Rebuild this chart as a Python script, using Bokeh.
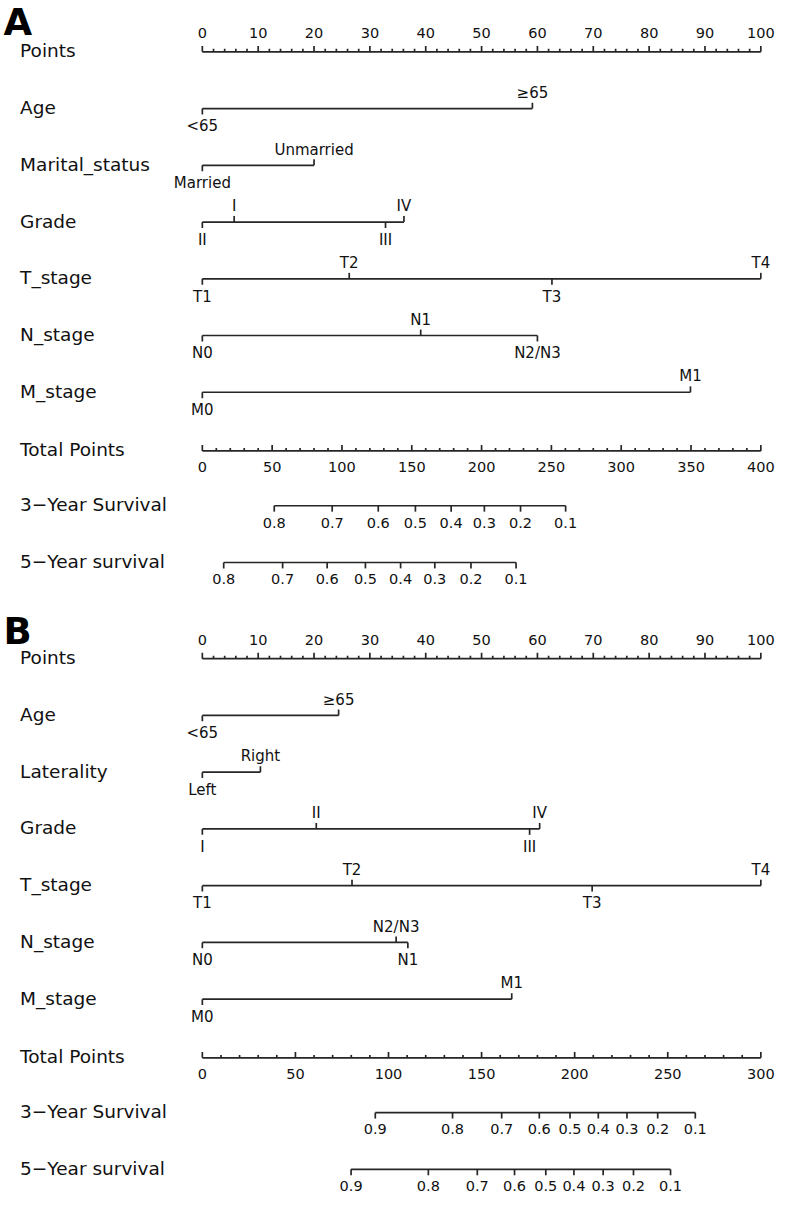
from bokeh.plotting import figure
from bokeh.models import Range1d
from bokeh.core.properties import value
from bokeh.embed import file_html
from bokeh.resources import INLINE

# ---------------- data ----------------
A_variables = ["Age", "Marital_status", "Grade", "T_stage", "N_stage", "M_stage"]
A_age_levels = ["<65", "\u226565"]
A_age_points = [0, 59.1]
A_marital_levels = ["Married", "Unmarried"]
A_marital_points = [0, 20.0]
A_grade_levels = ["II", "I", "III", "IV"]
A_grade_points = [0, 5.7, 32.8, 36.1]
A_t_levels = ["T1", "T2", "T3", "T4"]
A_t_points = [0, 26.3, 62.6, 100]
A_n_levels = ["N0", "N1", "N2/N3"]
A_n_points = [0, 39.1, 60.0]
A_m_levels = ["M0", "M1"]
A_m_points = [0, 87.4]
A_total_max = 400
A_total_major = 50
A_total_minor = 10
A_surv3_probs = ["0.8", "0.7", "0.6", "0.5", "0.4", "0.3", "0.2", "0.1"]
A_surv3_total = [51.5, 93.0, 126.0, 152.6, 178.2, 202.0, 227.9, 260.2]
A_surv5_probs = ["0.8", "0.7", "0.6", "0.5", "0.4", "0.3", "0.2", "0.1"]
A_surv5_total = [15.3, 57.5, 89.4, 116.8, 142.0, 166.5, 192.4, 224.7]

B_variables = ["Age", "Laterality", "Grade", "T_stage", "N_stage", "M_stage"]
B_age_levels = ["<65", "\u226565"]
B_age_points = [0, 24.4]
B_lat_levels = ["Left", "Right"]
B_lat_points = [0, 10.4]
B_grade_levels = ["I", "II", "III", "IV"]
B_grade_points = [0, 20.4, 58.6, 60.4]
B_t_levels = ["T1", "T2", "T3", "T4"]
B_t_points = [0, 26.8, 69.8, 100]
B_n_levels = ["N0", "N2/N3", "N1"]
B_n_points = [0, 34.7, 36.8]
B_m_levels = ["M0", "M1"]
B_m_points = [0, 55.4]
B_total_max = 300
B_total_major = 50
B_total_minor = 10
B_surv3_probs = ["0.9", "0.8", "0.7", "0.6", "0.5", "0.4", "0.3", "0.2", "0.1"]
B_surv3_total = [92.9, 134.4, 160.8, 181.0, 197.5, 212.7, 228.1, 244.6, 264.8]
B_surv5_probs = ["0.9", "0.8", "0.7", "0.6", "0.5", "0.4", "0.3", "0.2", "0.1"]
B_surv5_total = [79.9, 121.4, 147.7, 167.7, 184.5, 199.6, 215.3, 231.6, 251.5]

points_max = 100
points_major = 10
points_minor = 2

# ---------------- layout ----------------
REF_W, REF_H = 792, 1212
X0_PX, PX_PER_PT = 206, 5.70
ROW_STEP = 57.5
LABEL_X = 20
FONT = "DejaVu Sans"
LINE_COLOR = "#262626"
TEXT_COLOR = "#111111"
LW = 1.7


def to_pts(ref_x):
    return (ref_x - X0_PX) / PX_PER_PT


p = figure(width=776, height=1196,
           x_range=Range1d(to_pts(0), to_pts(REF_W)),
           y_range=Range1d(REF_H, 0),
           output_backend="svg", toolbar_location=None,
           x_axis_location=None, y_axis_location=None,
           min_border=0, background_fill_color="white",
           border_fill_color="white")
p.grid.visible = False
p.outline_line_color = None

segs = dict(x0=[], y0=[], x1=[], y1=[])
row_labels = dict(x=[], y=[], text=[])
small_labels = dict(x=[], y=[], text=[])   # level names
num_labels = dict(x=[], y=[], text=[])     # numeric tick labels


def seg(x0, y0, x1, y1):
    segs["x0"].append(x0); segs["y0"].append(y0)
    segs["x1"].append(x1); segs["y1"].append(y1)


def add(d, x, y, t):
    d["x"].append(x); d["y"].append(y); d["text"].append(t)


def row_label(y, t):
    add(row_labels, to_pts(LABEL_X), y - 1, t)


def points_row(y):
    row_label(y, "Points")
    seg(0, y, points_max, y)
    v = 0
    while v <= points_max + 1e-9:
        major = abs(v / points_major - round(v / points_major)) < 1e-9
        seg(v, y, v, y - (6 if major else 3))
        if major:
            add(num_labels, v, y - 19, str(int(round(v))))
        v += points_minor


def variable_row(y, name, levels, pts):
    row_label(y, name)
    seg(min(pts), y, max(pts), y)
    order = sorted(range(len(pts)), key=lambda i: pts[i])
    for k, i in enumerate(order):
        above = (k % 2 == 1)
        if above:
            seg(pts[i], y, pts[i], y - 6)
            add(small_labels, pts[i], y - 16, levels[i])
        else:
            seg(pts[i], y, pts[i], y + 6)
            add(small_labels, pts[i], y + 18, levels[i])


def total_row(y, tmax, major, minor):
    row_label(y, "Total Points")
    f = points_max / tmax
    seg(0, y, tmax * f, y)
    v = 0
    while v <= tmax + 1e-9:
        is_major = v % major == 0
        seg(v * f, y, v * f, y - (6 if is_major else 3))
        if is_major:
            add(num_labels, v * f, y + 16, str(v))
        v += minor


def surv_row(y, name, probs, totals, tmax):
    row_label(y, name)
    f = points_max / tmax
    xs = [t * f for t in totals]
    seg(min(xs), y, max(xs), y)
    for x, lab in zip(xs, probs):
        seg(x, y, x, y + 6)
        add(num_labels, x, y + 17, lab)


def panel(top, letter, letter_y, variables, var_data, tmax, tmaj, tmin,
          s3p, s3t, s5p, s5t):
    p.text(x=[to_pts(3)], y=[letter_y], text=[letter],
           text_font=value(FONT), text_font_style="bold",
           text_font_size="37px", text_align="left",
           text_baseline="top", text_color="black")
    points_row(top)
    for i, (name, (levels, pts)) in enumerate(zip(variables, var_data)):
        variable_row(top + (i + 1) * ROW_STEP, name, levels, pts)
    n = len(variables)
    total_row(top + (n + 1) * ROW_STEP + 2, tmax, tmaj, tmin)
    surv_row(top + (n + 2) * ROW_STEP, "3\u2212Year Survival", s3p, s3t, tmax)
    surv_row(top + (n + 3) * ROW_STEP, "5\u2212Year survival", s5p, s5t, tmax)


panel(52, "A", 1, A_variables,
      [(A_age_levels, A_age_points), (A_marital_levels, A_marital_points),
       (A_grade_levels, A_grade_points), (A_t_levels, A_t_points),
       (A_n_levels, A_n_points), (A_m_levels, A_m_points)],
      A_total_max, A_total_major, A_total_minor,
      A_surv3_probs, A_surv3_total, A_surv5_probs, A_surv5_total)

panel(667, "B", 618, B_variables,
      [(B_age_levels, B_age_points), (B_lat_levels, B_lat_points),
       (B_grade_levels, B_grade_points), (B_t_levels, B_t_points),
       (B_n_levels, B_n_points), (B_m_levels, B_m_points)],
      B_total_max, B_total_major, B_total_minor,
      B_surv3_probs, B_surv3_total, B_surv5_probs, B_surv5_total)

p.segment(x0="x0", y0="y0", x1="x1", y1="y1", source=segs,
          line_color=LINE_COLOR, line_width=LW)
p.text(x="x", y="y", text="text", source=row_labels,
       text_font=value(FONT), text_font_size="18.5px", text_align="left",
       text_baseline="middle", text_color=TEXT_COLOR)
p.text(x="x", y="y", text="text", source=small_labels,
       text_font=value(FONT), text_font_size="15px", text_align="center",
       text_baseline="middle", text_color=TEXT_COLOR)
p.text(x="x", y="y", text="text", source=num_labels,
       text_font=value(FONT), text_font_size="14.5px", text_align="center",
       text_baseline="middle", text_color=TEXT_COLOR)

open("out.html", "w").write(file_html(p, INLINE))
